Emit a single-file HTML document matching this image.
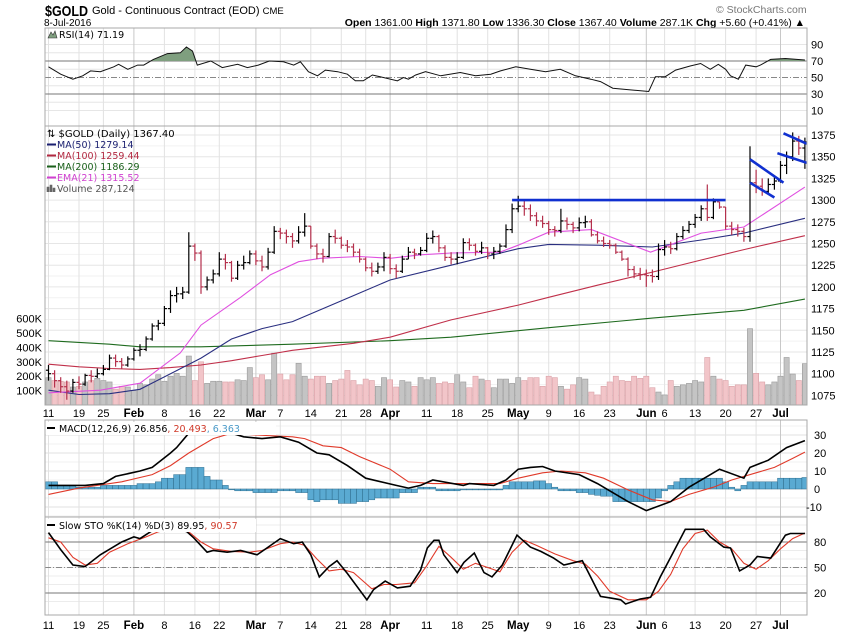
<!DOCTYPE html>
<html><head><meta charset="utf-8">
<style>
html,body{margin:0;padding:0;background:#fff;}
body{width:850px;height:633px;overflow:hidden;position:relative;font-family:"Liberation Sans",sans-serif;}
svg{position:absolute;left:0;top:0;}
</style></head>
<body>
<svg id="chart" width="850" height="633" viewBox="0 0 850 633">
  <text x="45" y="16" font-size="15" font-weight="bold" fill="#000" textLength="43" lengthAdjust="spacingAndGlyphs">$GOLD</text>
  <text x="92" y="14" font-size="11" fill="#000">Gold - Continuous Contract (EOD) <tspan font-size="9.5">CME</tspan></text>
  <text x="44" y="26" font-size="10" fill="#000">8-Jul-2016</text>
  <text x="716" y="13" font-size="10.5" fill="#777">© StockCharts.com</text>
  <text x="805" y="26" font-size="10.5" fill="#000" text-anchor="end"><tspan font-weight="bold">Open</tspan> 1361.00 <tspan font-weight="bold">High</tspan> 1371.80 <tspan font-weight="bold">Low</tspan> 1336.30 <tspan font-weight="bold">Close</tspan> 1367.40 <tspan font-weight="bold">Volume</tspan> 287.1K <tspan font-weight="bold">Chg</tspan> +5.60 (+0.41%) ▲</text>
  <g id="g"></g>
</svg>
<script>
// ===== data =====
const dateIdx = [0,5,9,14,19,24,28,34,38,43,48,52,56,62,67,72,77,82,87,92,98,101,106,111,116,120];
const dateLabels = ['11','19','25','Feb','8','16','22','Mar','7','14','21','28','Apr','11','18','25','May','9','16','23','Jun','6','13','20','27','Jul'];
const closes = [1100,1092,1085,1080,1090,1088,1098,1097,1100,1105,1118,1114,1110,1117,1127,1128,1140,1155,1158,1175,1190,1192,1194,1247,1239,1200,1208,1215,1232,1228,1210,1225,1228,1238,1230,1223,1240,1264,1262,1258,1253,1263,1270,1247,1238,1235,1258,1256,1248,1246,1240,1232,1222,1218,1223,1234,1221,1218,1232,1240,1238,1242,1256,1258,1245,1234,1232,1234,1251,1248,1241,1245,1238,1241,1247,1266,1290,1293,1290,1282,1276,1273,1266,1265,1276,1272,1268,1274,1275,1260,1253,1250,1248,1240,1232,1220,1215,1214,1213,1212,1243,1246,1244,1258,1265,1272,1280,1290,1280,1298,1292,1270,1266,1264,1258,1320,1316,1310,1318,1322,1340,1350,1368,1360,1367];
const highs = [1110,1104,1096,1092,1094,1097,1100,1104,1106,1110,1122,1122,1118,1120,1130,1134,1143,1158,1162,1178,1196,1200,1200,1263,1250,1242,1212,1220,1240,1238,1230,1230,1236,1242,1242,1236,1245,1270,1268,1266,1262,1270,1285,1270,1250,1244,1262,1266,1258,1254,1250,1244,1234,1228,1228,1240,1238,1226,1236,1246,1244,1246,1262,1265,1260,1248,1240,1240,1256,1256,1250,1252,1246,1246,1250,1272,1296,1305,1300,1295,1286,1282,1276,1270,1290,1280,1275,1280,1282,1278,1264,1258,1254,1250,1242,1234,1224,1222,1220,1220,1250,1254,1252,1262,1270,1276,1284,1294,1318,1302,1298,1292,1275,1272,1268,1362,1335,1325,1325,1328,1345,1356,1378,1374,1372];
const lows = [1092,1084,1078,1070,1078,1082,1086,1090,1095,1098,1104,1108,1106,1108,1115,1120,1126,1138,1150,1155,1170,1182,1186,1192,1230,1192,1196,1204,1212,1220,1206,1208,1220,1226,1225,1218,1220,1238,1255,1250,1245,1250,1258,1244,1232,1228,1234,1250,1244,1240,1235,1228,1218,1212,1215,1218,1215,1210,1216,1232,1232,1236,1240,1250,1240,1230,1226,1226,1232,1242,1236,1238,1232,1232,1238,1245,1262,1286,1282,1276,1270,1268,1260,1258,1262,1266,1262,1264,1268,1258,1250,1246,1244,1238,1230,1212,1210,1208,1200,1205,1208,1236,1238,1242,1255,1262,1268,1276,1276,1278,1290,1266,1260,1258,1252,1252,1308,1305,1308,1312,1320,1330,1345,1352,1336];
const firstOpen = 1104;
const volumes = [190,170,165,160,125,130,160,170,185,170,160,110,130,125,100,150,140,180,210,165,200,220,200,340,170,300,150,165,165,160,160,175,170,260,190,210,175,360,215,175,210,290,200,180,200,200,150,170,180,240,170,140,180,170,130,190,175,125,170,160,130,190,175,190,150,160,150,210,160,120,200,180,170,120,180,180,150,190,170,190,190,130,200,190,130,110,140,190,180,90,70,130,160,200,170,165,200,185,200,120,90,70,170,130,140,150,170,160,330,200,180,170,130,140,140,530,220,160,140,160,200,330,215,170,287];
const ma50Idx = [0,5,10,15,20,25,30,35,40,45,50,56,66,77,82,90,99,107,114,124];
const ma50Val = [1081,1076,1077,1082,1100,1118,1140,1152,1160,1175,1190,1208,1225,1244,1249,1248,1246,1254,1262,1279];
const ma100Idx = [0,5,10,15,20,25,30,35,40,45,50,56,66,77,82,90,99,107,114,124];
const ma100Val = [1111,1108,1106,1105,1107,1110,1115,1121,1127,1131,1135,1142,1162,1179,1188,1202,1217,1231,1243,1259];
const ma200Idx = [0,10,15,25,40,56,66,82,99,114,124];
const ma200Val = [1138,1134,1131,1131,1134,1138,1142,1153,1164,1173,1186];
const ema21Idx = [0,8.5,15,21.6,25,31.5,36.4,41,44.6,51,56,61,66,74,77,82,89,98.7,107,114,124];
const ema21Val = [1078,1081,1089,1124,1156,1188,1214,1229,1233,1235,1233,1237,1239,1240,1248,1263,1266,1240,1262,1269,1315];
const rsiIdx = [0,2,4,5.6,6.9,8.5,10.7,11.5,13,14.6,15.6,17.2,19.5,21.6,22.6,23.6,24.4,26.6,28.5,31,32.6,34.4,36.2,38.5,40.2,41.3,42.6,44.1,45.4,47.4,49,50.3,51.6,53.1,54.9,57.2,58.2,59,60.2,61.8,64.3,67.5,70,72.5,74.1,76.6,79,81.5,83.9,86.4,88.9,90.5,92.5,95.4,98.4,99.5,101.1,102.8,105.2,106.9,108.5,109.8,111,111.8,113.1,114.3,116,116.7,118.4,120.8,124];
const rsiVal = [63,54,48,52,58,57,63,66,60,65,65,72,79,80,87,82,65,70,62,66,62,65,70,69,65,69,57,52,59,57,54,46,46,53,50,46,50,48,53,57,52,56,52,54,58,63,60,57,60,52,48,45,37,35,33,51,51,59,64,67,60,66,60,52,48,65,63,65,72,73,71.2];
const macdIdx = [0,6,9,11,15,17,20,21,23,26,30,32,35,38,41,44,46,49,52,57,59,61,63,68,69,73,75,77,79,81,83,87,90,92,95,98,102,105,108,110,114,115,118,121,124];
const macdVal = [2,2,3,7,10,12,20,23,31,36,31,29,28,29,26,20,19,13,6,2,0.5,2,5,2,3,2,5,11,12,12.5,10,8,3,-1,-7,-12,-7,1,7,11,6,12,16,23,26.9];
const sigIdx = [0,5,12,17,20,23,27,30,34,40,42,45,48,51,56,59,63,69,74,77,81,84,88,91,95,99,102,105,109,112,116,119,122,124];
const sigVal = [-3,0.5,4,8,13,20,28,31,30,29,28,24,23,18,11,4,3,3,3,6,9,10,9,6,-0.5,-6,-7,-3,1,5,9,12,17,20.5];
const histVal = [4,4,2,2,2,1,1,1,1,2,2,2,2,2,2,3,3,3,4,6,6,8,8,12,12,12,7,5,5,2,0,-1,-1,-1,-2,-2,-2,-2,-1,-1,-1,-2,-2,-6,-7,-6,-6,-6,-8,-8,-8,-7,-7,-6,-5,-5,-5,-5,-2,-2,-2,1,1,1,-1,-1,-1,-1,-0.5,-0.5,-0.5,-0.5,-0.5,-0.5,-0.5,2,4,4,4,4,4.5,4.5,3,1,-1,-1,-1,-2,-2,-3,-3.5,-4,-4,-7,-7,-7,-7,-7,-7,-7,-5,-1,2,4,6,6,6,6,6,6,6,4,1,-1,2,4,4,4,4,4,6,6,6,6,6.4];
const kIdx = [0,2,4,6,8.5,12,14,15,16.7,19,21,22.7,23.8,26,27,29.3,31.5,34.2,35.8,38,40.2,41.6,43,44.4,46,47.3,49,52.2,53.3,55.2,57.2,59.3,61,62.1,63.2,64,64.8,67,68.1,69.8,71.4,72.7,74.4,76.8,79,80.7,82.8,84.5,87.5,88.3,90.5,92.2,93.8,94.6,97,98.7,100.3,102,104.4,107.4,108.5,110.7,111.8,113.3,115,116.2,118.4,120.8,121.6,124];
const kVal = [91,71,53,51,65,80,86,84,92,100,96,92,85,68,70,68,70,65,73,84,78,80,65,39,51,58,43,12,24,34,26,28,47,73,82,82,65,44,56,67,44,39,53,88,74,69,61,53,58,47,16,14,12,7,13,15,39,62,95,95,86,74,73,46,53,63,61,88,90,90];
const dIdx = [0,2,4,6,8,10,13,16,18,21,23,25,27,30,33,35,38,40,42,44,46,48,50,53,55,57,60,62,64,66,68,70,72,74,76,78,80,83,86,88,90,92,95,98,100,102,104,106,108,110,112,114,116,118,120,122,124];
const dVal = [85,80,62,53,55,68,78,86,92,97,92,80,72,69,68,70,78,80,76,60,46,48,44,25,30,30,32,52,75,62,48,55,50,45,68,82,76,66,58,54,40,22,12,12,22,42,72,90,94,80,72,55,48,58,72,84,90.6];
const resistIdx = [76,111];
const resistVal = [1300,1300];
const flag1UpIdx = [115,120.5], flag1UpVal = [1347,1320];
const flag1LoIdx = [115,119], flag1LoVal = [1320,1303];
const flag2UpIdx = [120.5,124.3], flag2UpVal = [1377,1365];
const flag2LoIdx = [119.5,124.3], flag2LoVal = [1354,1343];
const priceTicks = [1375,1350,1325,1300,1275,1250,1225,1200,1175,1150,1125,1100,1075];
const volTicks = [100,200,300,400,500,600];
const rsiTicks = [90,70,50,30,10];
const macdTicks = [30,20,10,0,-10];
const stoTicks = [80,50,20];

// ===== geometry =====
const L=45,R=807;
const P={rsiT:28,rsiB:126,prT:126,prB:405,mT:420,mB:517,sT:517,sB:615};
const xi=i=>48.5+i*6.1;
const yP=p=>135+(1375-p)*0.868;
const yV=v=>405-v*0.144;
const yR=v=>61+(70-v)*0.825;
const yM=v=>489-v*1.8;
const yS=v=>542+(80-v)*0.85;
const NS='http://www.w3.org/2000/svg';
const G=document.getElementById('g');
function mk(tag,attrs,parent){const e=document.createElementNS(NS,tag);for(const k in attrs)e.setAttribute(k,attrs[k]);(parent||G).appendChild(e);return e;}
function pts(idx,val,fy){return idx.map((i,k)=>xi(i).toFixed(1)+','+fy(val[k]).toFixed(1)).join(' ');}

const defs=mk('defs',{});
[['clipRsi',P.rsiT,P.rsiB],['clipPr',P.prT,P.prB],['clipM',P.mT,P.mB],['clipS',P.sT,P.sB]].forEach(c=>{
  const cp=mk('clipPath',{id:c[0]},defs);mk('rect',{x:L,y:c[1],width:R-L,height:c[2]-c[1]},cp);
});

function vgrid(t,b,name){
  dateIdx.forEach((i,k)=>{
    const bold=isNaN(+dateLabels[k]);
    const ln=mk('line',{x1:xi(i),x2:xi(i),y1:t,y2:b,stroke:bold?'#c8c8c8':'#e2e2e2','stroke-width':1});
    
    
  });
}
function hline(y,color,dash,name){
  const ln=mk('line',{x1:L,x2:R,y1:y,y2:y,stroke:color,'stroke-width':1});
  if(dash)ln.setAttribute('stroke-dasharray',dash);
  
  
}
[90,80,60,40,20,10].forEach(v=>hline(yR(v),'#e6e6e6',null,'rsi-grid'));
vgrid(P.rsiT,P.rsiB,'rsi');
hline(yR(70),'#777',null,'rsi-70-line');
hline(yR(30),'#777',null,'rsi-30-line');
hline(yR(50),'#888','6,2,1,2','rsi-50-line');
for(let p=1075;p<=1375;p+=25)hline(yP(p),'#e6e6e6',null,'price-grid');
for(let p=1087.5;p<=1375;p+=25)hline(yP(p),'#f2f2f2',null,'price-grid-minor');
vgrid(P.prT,P.prB,'price');
for(let v=-15;v<=35;v+=5)hline(yM(v),v%10===0?'#e2e2e2':'#f0f0f0',null,'macd-grid');
vgrid(P.mT,P.mB,'macd');
for(let v=10;v<=100;v+=10)hline(yS(v),'#ececec',null,'sto-grid');
vgrid(P.sT,P.sB,'sto');
hline(yS(80),'#777',null,'sto-80-line');
hline(yS(20),'#777',null,'sto-20-line');
hline(yS(50),'#888','6,2,1,2','sto-50-line');

// ===== RSI =====
const rsiG=mk('g',{'clip-path':'url(#clipRsi)'});
const clipAbove=mk('clipPath',{id:'clipAbove70'},defs);
mk('rect',{x:L,y:P.rsiT,width:R-L,height:yR(70)-P.rsiT},clipAbove);
const rsiFill=mk('polygon',{points:pts(rsiIdx,rsiVal,yR)+' '+xi(rsiIdx[rsiIdx.length-1])+','+yR(70)+' '+xi(rsiIdx[0])+','+yR(70),fill:'#7f9f7f',stroke:'none','clip-path':'url(#clipAbove70)'},rsiG);


const rsiLine=mk('polyline',{points:pts(rsiIdx,rsiVal,yR),fill:'none',stroke:'#111','stroke-width':1},rsiG);



// ===== price panel =====
const prG=mk('g',{'clip-path':'url(#clipPr)'});
volumes.forEach((v,i)=>{
  const down=i>0&&closes[i]<closes[i-1];
  const r=mk('rect',{x:xi(i)-2.6,y:yV(v),width:5.2,height:405-yV(v),fill:down?'#f2c5c9':'#c4c4c4',stroke:down?'#d9a0a6':'#9a9a9a','stroke-width':0.6},prG);
  
  
});
function maLine(idx,val,color,name,w){
  const l=mk('polyline',{points:pts(idx,val,yP),fill:'none',stroke:color,'stroke-width':w||1.1},prG);
  
  
}
maLine(ma200Idx,ma200Val,'#1f6b1f','ma200-line');
maLine(ma100Idx,ma100Val,'#c0304a','ma100-line');
maLine(ma50Idx,ma50Val,'#2a2f80','ma50-line');
maLine(ema21Idx,ema21Val,'#e050e0','ema21-line');
closes.forEach((c,i)=>{
  const o=i===0?firstOpen:closes[i-1];
  const down=i>0&&c<closes[i-1];
  const col=down?'#b4304c':'#000';
  const x=xi(i);
  const g=mk('g',{stroke:col,'stroke-width':1.2},prG);
  
  
  mk('line',{x1:x,x2:x,y1:yP(highs[i]),y2:yP(lows[i])},g);
  mk('line',{x1:x-2.6,x2:x,y1:yP(o),y2:yP(o)},g);
  mk('line',{x1:x,x2:x+2.6,y1:yP(c),y2:yP(c)},g);
});
function tl(idx,val,name){
  const l=mk('polyline',{points:pts(idx,val,yP),fill:'none',stroke:'#1030d0','stroke-width':2.6},prG);
  
  
}
tl(resistIdx,resistVal,'resistance-line');
tl(flag1UpIdx,flag1UpVal,'flag1-upper-line');
tl(flag1LoIdx,flag1LoVal,'flag1-lower-line');
tl(flag2UpIdx,flag2UpVal,'flag2-upper-line');
tl(flag2LoIdx,flag2LoVal,'flag2-lower-line');

// ===== MACD =====
const mG=mk('g',{'clip-path':'url(#clipM)'});
histVal.forEach((v,i)=>{
  const y0=yM(0),y1=yM(v);
  const r=mk('rect',{x:xi(i)-3,y:Math.min(y0,y1),width:6,height:Math.max(0.8,Math.abs(y1-y0)),fill:'#5aaad2',stroke:'#2f6f90','stroke-width':0.5},mG);
  
  
});
const sigL=mk('polyline',{points:pts(sigIdx,sigVal,yM),fill:'none',stroke:'#e03a2a','stroke-width':1.1},mG);


const macdL=mk('polyline',{points:pts(macdIdx,macdVal,yM),fill:'none',stroke:'#000','stroke-width':1.6},mG);



// ===== STO =====
const sG=mk('g',{'clip-path':'url(#clipS)'});
const dL=mk('polyline',{points:pts(dIdx,dVal,yS),fill:'none',stroke:'#e03a2a','stroke-width':1.1},sG);


const kL=mk('polyline',{points:pts(kIdx,kVal,yS),fill:'none',stroke:'#000','stroke-width':1.6},sG);



// ===== panel borders =====
[[P.rsiT,P.rsiB,'rsi-panel'],[P.prT,P.prB,'price-panel'],[P.mT,P.mB,'macd-panel'],[P.sT,P.sB,'sto-panel']].forEach(p=>{
  const r=mk('rect',{x:L,y:p[0],width:R-L,height:p[1]-p[0],fill:'none',stroke:'#a8a8a8','stroke-width':1});
  
  
});

// ===== axis labels =====
function txt(x,y,s,attrs,name){
  const t=mk('text',Object.assign({x:x,y:y,'font-size':11,fill:'#000'},attrs||{}));
  t.textContent=s;
  
  
  return t;
}
rsiTicks.forEach(v=>txt(811,yR(v)+4,String(v),{},'rsi-tick-label'));
priceTicks.forEach(v=>txt(811,yP(v)+4,String(v),{},'price-tick-label'));
macdTicks.forEach(v=>txt(v<0?806:814,yM(v)+4,String(v),{},'macd-tick-label'));
stoTicks.forEach(v=>txt(814,yS(v)+4,String(v),{},'sto-tick-label'));
volTicks.forEach(v=>txt(42,yV(v)+4,v+'K',{'text-anchor':'end'},'volume-tick-label'));
dateIdx.forEach((i,k)=>{
  const bold=isNaN(+dateLabels[k]);
  txt(xi(i),417,dateLabels[k],{'text-anchor':'middle','font-weight':bold?'bold':'normal','font-size':bold?11.5:11},'date-label');
  txt(xi(i),629,dateLabels[k],{'text-anchor':'middle','font-weight':bold?'bold':'normal','font-size':bold?11.5:11},'date-label-bottom');
});

// ===== legends =====
const lf='"DejaVu Sans","Liberation Sans",sans-serif';
mk('path',{d:'M48 38 L51 32 L53 35 L55 31 L57 38 Z',fill:'#7f9f7f',stroke:'#333','stroke-width':0.6});
txt(59,38,'RSI(14) 71.19',{'font-size':9.5,'font-family':lf},'rsi-legend');
txt(47,137,'⇅ $GOLD (Daily) 1367.40',{'font-size':10,'font-family':lf},'price-legend');
const leg=[['MA(50) 1279.14','#1a1f70','ma50-legend'],['MA(100) 1259.44','#b22840','ma100-legend'],['MA(200) 1186.29','#1a601a','ma200-legend'],['EMA(21) 1315.52','#d040d0','ema21-legend'],['Volume 287,124','#555','volume-legend']];
leg.forEach((l,k)=>{
  const y=148+k*11;
  if(k<4){mk('line',{x1:47,x2:56,y1:y-3.5,y2:y-3.5,stroke:l[1],'stroke-width':2});}
  else{mk('path',{d:'M47 '+y+' v-5 h2 v5 M50 '+y+' v-7 h2 v7 M53 '+y+' v-4 h2 v4',fill:'#666',stroke:'#666','stroke-width':0.6});}
  txt(57,y,l[0],{'font-size':9.5,'font-family':lf,fill:l[1]},l[2]);
});
mk('rect',{x:46,y:422,width:230,height:13,fill:'#fff'});
mk('line',{x1:47,x2:55,y1:428,y2:428,stroke:'#000','stroke-width':2});
const mt=txt(59,432,'',{'font-size':9.5,'font-family':lf},'macd-legend');
mt.innerHTML='MACD(12,26,9) 26.856<tspan fill="#d03a2a">, 20.493</tspan><tspan fill="#4a9ac8">, 6.363</tspan>';
mk('rect',{x:46,y:519,width:210,height:13,fill:'#fff'});
mk('line',{x1:47,x2:55,y1:525,y2:525,stroke:'#000','stroke-width':2});
const st=txt(59,529,'',{'font-size':9.5,'font-family':lf},'sto-legend');
st.innerHTML='Slow STO %K(14) %D(3) 89.95<tspan fill="#d03a2a">, 90.57</tspan>';
</script>
</body></html>
